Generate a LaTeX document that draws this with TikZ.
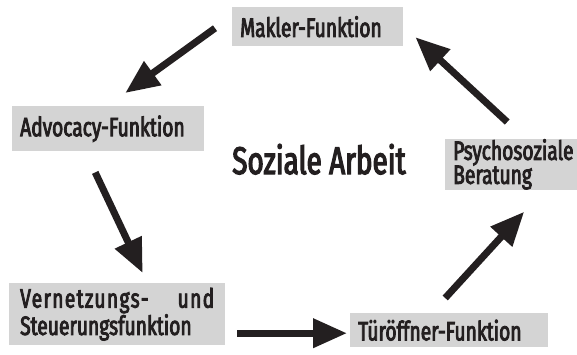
\documentclass[tikz,border=0pt]{standalone}
\usepackage{fontspec}
\setmainfont{Fira Sans}[FakeStretch=0.725, FakeBold=3.2]
\usetikzlibrary{arrows.meta}
\definecolor{kastengrau}{RGB}{212,212,212}
\definecolor{fastschwarz}{RGB}{35,31,32}

\begin{document}
\begin{tikzpicture}[x=1pt, y=-1pt,
    funktion/.style={fill=kastengrau, anchor=north west, align=left, inner xsep=8pt, inner ysep=0pt,
        text=fastschwarz, font={\fontsize{26.5}{24}\selectfont}},
    pfeil/.style={draw=fastschwarz, line width=7pt, -{Triangle[length=34pt,width=28pt]}}]
    \useasboundingbox (0,0) rectangle (577,354);
    % Kaesten
    \node[funktion, minimum width=171pt, minimum height=39pt, text width=155pt] (makler) at (232,7) {Makler-Funktion};
    \node[funktion, minimum width=192pt, minimum height=45pt, text width=176pt] (advocacy) at (12,106) {Advocacy-Funktion};
    \node[funktion, minimum width=132pt, minimum height=50pt, text width=124pt] (psycho) at (445,139) {Psychosoziale\\Beratung};
    \node[funktion, inner xsep=10pt, minimum width=216pt, minimum height=62pt, text width=194pt] (vernetz) at (9,283)
        {{\addfontfeature{LetterSpace=5}Vernetzungs-}\hfill{\addfontfeature{LetterSpace=5}und}\\Steuerungsfunktion};
    \node[funktion, minimum width=198pt, minimum height=34pt, text width=182pt] (tuer) at (350,313) {Türöffner-Funktion};
    \node[text=fastschwarz, font={\fontsize{38.5}{38}\selectfont}, anchor=base] (soziale) at (319,174) {Soziale Arbeit};
    % Pfeile im Kreis
    \draw[pfeil] ([shift={(-17,1.5)}]makler.west) -- ([shift={(17,-13)}]advocacy.north);
    \draw[pfeil] ([shift={(-13,21)}]advocacy.south) -- ([shift={(25.5,-10)}]vernetz.north);
    \draw[pfeil] ([shift={(12,19)}]vernetz.east) -- ([shift={(-3,3)}]tuer.west);
    \draw[pfeil] ([shift={(-4,-15)}]tuer.north) -- ([shift={(9,22)}]psycho.south);
    \draw[pfeil] ([shift={(-8,-17)}]psycho.north) -- ([shift={(12,10.5)}]makler.east);
\end{tikzpicture}
\end{document}
